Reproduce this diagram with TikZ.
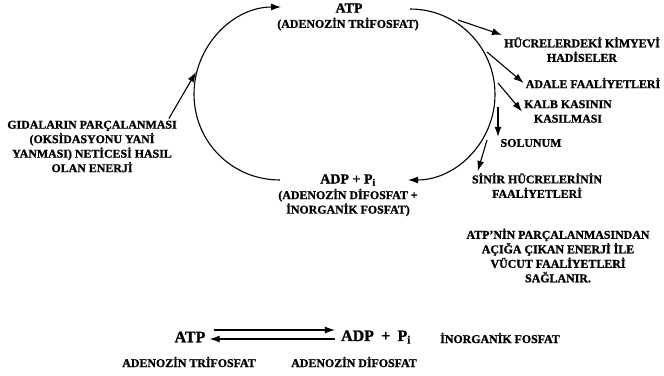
\documentclass[tikz,border=0pt]{standalone}
\usepackage{fontspec}
\setmainfont{Liberation Serif}[BoldFeatures={FakeBold=1.2}]
\usetikzlibrary{arrows.meta}

\tikzset{
  smalltxt/.style={font=\fontsize{11.9}{14.5}\selectfont\bfseries, align=center, inner sep=2pt},
  bigtxt/.style={font=\fontsize{14}{14}\selectfont\bfseries, inner sep=2pt},
  bottomtxt/.style={font=\fontsize{16}{16}\selectfont\bfseries, inner sep=2pt},
  arr/.style={line width=1.1pt, -{Latex[length=10pt,width=7pt]}},
}

\begin{document}
\begin{tikzpicture}[x=1pt, y=-1pt]
\useasboundingbox (0,0) rectangle (664,375);

% the cycle
\node[bigtxt] (atp) at (349,8) {ATP};
\node[smalltxt] (atpname) at (348,24) {(ADENOZİN TRİFOSFAT)};
\node[bigtxt] (adp) at (348,180) {ADP + P\textsubscript{i}};
\node[smalltxt] (adpname) at (348,202.5) {(ADENOZİN DİFOSFAT +\\İNORGANİK FOSFAT)};
\node[smalltxt] (gida) at (92,146.5) {GIDALARIN PARÇALANMASI\\(OKSİDASYONU YANİ\\YANMASI) NETİCESİ HASIL\\OLAN ENERJİ};

\coordinate (lt) at (281,7);
\coordinate (lb) at (280,180);
\coordinate (rt) at (410,9);
\coordinate (rb) at (408,180);
\coordinate (g) at (196,72);

\draw[arr] (lb) .. controls (232,180) and (194,142) .. (194,94) .. controls (194,46) and (233,7) .. (lt);
\draw[arr] (rt) .. controls (457,9) and (495,47) .. (495,94.5) .. controls (495,142) and (456,180) .. (rb);
\draw[arr] ([xshift=-10pt]gida.north east) -- (g);

% uses of the energy
\node[smalltxt] (hucre) at (582,49.5) {HÜCRELERDEKİ KİMYEVİ\\HADİSELER};
\node[smalltxt] (adale) at (593,83) {ADALE FAALİYETLERİ};
\node[smalltxt] (kalb) at (568,111.5) {KALB KASININ\\KASILMASI};
\node[smalltxt] (solunum) at (531,143) {SOLUNUM};
\node[smalltxt] (sinir) at (537,185.5) {SİNİR HÜCRELERİNİN\\FAALİYETLERİ};
\node[smalltxt] (sonuc) at (558,255.5) {ATP’NİN PARÇALANMASINDAN\\AÇIĞA ÇIKAN ENERJİ İLE\\VÜCUT FAALİYETLERİ\\SAĞLANIR.};

\coordinate (s1) at (458,20);
\coordinate (s2) at (487,52);
\coordinate (s3) at (498,83);
\coordinate (s4) at (498,107);
\coordinate (s5) at (487,140);

\draw[arr] (s1) -- (hucre.north west);
\draw[arr] (s2) -- (adale.west);
\draw[arr] (s3) -- (kalb.west);
\draw[arr] (s4) -- (s4 |- solunum.north);
\draw[arr] (s5) -- ([xshift=8pt]sinir.north west);

% the reaction
\node[bottomtxt] (atp2) at (190,337) {ATP};
\node[bottomtxt] (adp2) at (376,337) {ADP\hspace{0.45em}+\hspace{0.45em}P\textsubscript{i}};
\node[smalltxt] (inorg) at (500,338) {İNORGANİK FOSFAT};
\node[smalltxt] (atpname2) at (189,362) {ADENOZİN TRİFOSFAT};
\node[smalltxt] (adpname2) at (354,362) {ADENOZİN DİFOSFAT};

\draw[arr] ([xshift=6pt,yshift=7pt]atp2.east) -- ([xshift=-4pt,yshift=7pt]adp2.west);
\draw[arr] ([xshift=-4pt,yshift=-2pt]adp2.west) -- ([xshift=2pt,yshift=-2pt]atp2.east);
\end{tikzpicture}
\end{document}
